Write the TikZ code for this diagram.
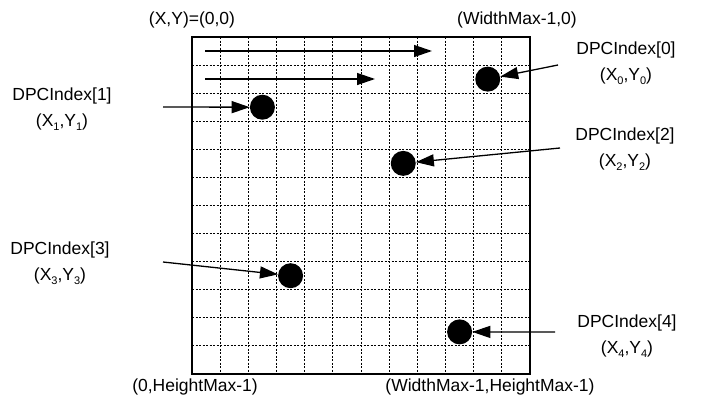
\documentclass[tikz,border=0pt]{standalone}
\usepackage{fontspec}
\setmainfont{Liberation Sans}
\usetikzlibrary{arrows.meta}
\newcommand{\lowsub}[1]{\raisebox{-4pt}{\fontsize{11}{11}\selectfont #1}}
\tikzset{
  lbl/.style={align=center, inner sep=0pt, font=\fontsize{17.5}{26}\selectfont},
  corner/.style={inner sep=0pt, font=\fontsize{17.5}{20}\selectfont},
  dot/.style={circle, fill=black, minimum size=25pt, inner sep=0pt},
  arr/.style={line width=1.3pt, -{Triangle[length=18pt,width=12pt]}},
  gridline/.style={line width=1pt, dash pattern=on 2pt off 1.5pt},
  frame/.style={line width=2.4pt}
}
\begin{document}
\begin{tikzpicture}[x=1pt, y=-1pt]
\useasboundingbox (0,0) rectangle (713,402);
\def\cw{28.1667}
\def\ch{28.0833}
% grid
\foreach \i in {1,...,11} {
  \pgfmathsetmacro{\gx}{floor(192+\i*\cw)+0.5}
  \pgfmathsetmacro{\gy}{floor(37+\i*\ch)+0.5}
  \draw[gridline] (\gx,37) -- (\gx,374);
  \draw[gridline] (192,\gy) -- (530,\gy);
}
\draw[frame] (192,37) rectangle (530,374);
% corner labels
\node[corner] (c00) at (192,20) {(X,Y)=(0,0)};
\node[corner] (cw0) at (517,20) {(WidthMax-1,0)};
\node[corner] (c0h) at (195,387) {(0,HeightMax-1)};
\node[corner] (cwh) at (490,387) {(WidthMax-1,HeightMax-1)};
% scan arrows
\coordinate (s1) at (205,51);
\coordinate (e1) at (432,51);
\coordinate (s2) at (205,79);
\coordinate (e2) at (375,79);
\draw[arr] (s1) -- (e1);
\draw[arr] (s2) -- (e2);
% dots
\node[dot] (d0) at ({192+10.5*\cw},{37+1.5*\ch}) {};
\node[dot] (d1) at ({192+2.5*\cw},{37+2.5*\ch}) {};
\node[dot] (d2) at ({192+7.5*\cw},{37+4.5*\ch}) {};
\node[dot] (d3) at ({192+3.5*\cw},{37+8.5*\ch}) {};
\node[dot] (d4) at ({192+9.5*\cw},{37+10.5*\ch}) {};
% labels
\node[lbl] (l0) at (626,63) {DPCIndex[0]\\(X\lowsub{0},Y\lowsub{0})};
\node[lbl] (l1) at (62,109) {DPCIndex[1]\\(X\lowsub{1},Y\lowsub{1})};
\node[lbl] (l2) at (625,149) {DPCIndex[2]\\(X\lowsub{2},Y\lowsub{2})};
\node[lbl] (l3) at (60,263) {DPCIndex[3]\\(X\lowsub{3},Y\lowsub{3})};
\node[lbl] (l4) at (627,336) {DPCIndex[4]\\(X\lowsub{4},Y\lowsub{4})};
% arrow start points
\coordinate (a0) at (558,65);
\coordinate (a1) at (163,107);
\coordinate (a2) at (560,148);
\coordinate (a3) at (163,262);
\coordinate (a4) at (555,332);
\draw[arr] (a0) -- (d0);
\draw[arr] (a1) -- (d1);
\draw[arr] (a2) -- (d2);
\draw[arr] (a3) -- (d3);
\draw[arr] (a4) -- (d4);
\end{tikzpicture}
\end{document}
